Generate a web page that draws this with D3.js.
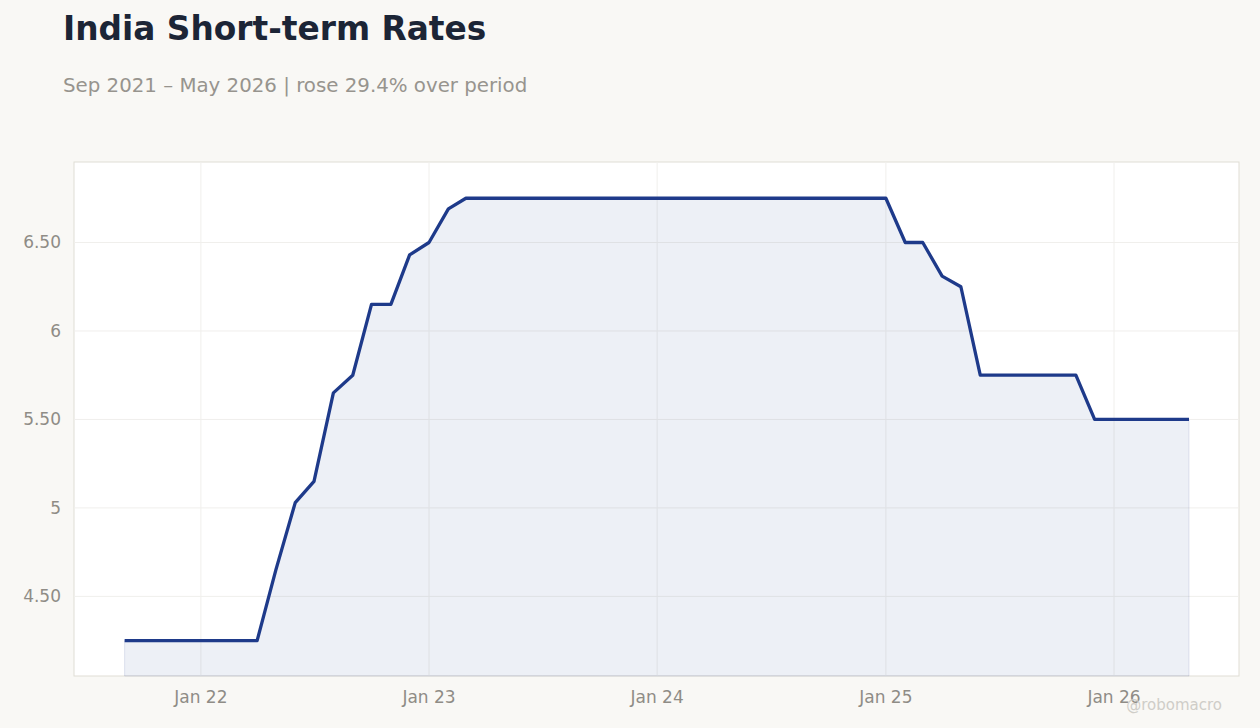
<!DOCTYPE html>
<html><head><meta charset="utf-8">
<script src="https://cdn.jsdelivr.net/npm/d3@7"></script>
<style>body{margin:0;background:#f9f8f5;font-family:"DejaVu Sans",sans-serif;}</style>
</head><body><svg id="c" width="1260" height="728"></svg>
<script>
const startMonth = "2021-09";
const values = [4.25,4.25,4.25,4.25,4.25,4.25,4.25,4.25,4.65,5.03,5.15,5.65,5.75,6.15,6.15,6.43,
6.5,6.69,6.75,6.75,6.75,6.75,6.75,6.75,6.75,6.75,6.75,6.75,6.75,6.75,6.75,6.75,6.75,6.75,6.75,6.75,6.75,6.75,6.75,6.75,
6.75,6.5,6.5,6.31,6.25,5.75,5.75,5.75,5.75,5.75,5.75,5.5,5.5,5.5,5.5,5.5,5.5];
const yTicks = [4.5,5,5.5,6,6.5];
const yTickLabels = ["4.50","5","5.50","6","6.50"];
const xTicks = ["2022-01","2023-01","2024-01","2025-01","2026-01"];
const xTickLabels = ["Jan 22","Jan 23","Jan 24","Jan 25","Jan 26"];

const p = d3.timeParse("%Y-%m");
const s0 = p(startMonth);
const data = values.map((v,i)=>({d:d3.timeMonth.offset(s0,i),v}));
const svg = d3.select("#c");
const L=74,R=1239,T=162,B=676;
const x = d3.scaleTime().domain([new Date(2021,5,12),new Date(2026,6,20)]).range([L,R]);
const y = d3.scaleLinear().domain([4.05,6.955]).range([B,T]);
svg.append("rect").attr("x",L).attr("y",T).attr("width",R-L).attr("height",B-T).attr("fill","#fff").attr("stroke","#e0ddd5");
const g=svg.append("g");
yTicks.forEach((t,i)=>{
  g.append("line").attr("x1",L).attr("x2",R).attr("y1",y(t)).attr("y2",y(t)).attr("stroke","#f0efec");
  g.append("text").attr("x",L-13).attr("y",y(t)).attr("dy","0.35em").attr("text-anchor","end").attr("fill","#8f8c86").attr("font-size",17).text(yTickLabels[i]);
});
xTicks.forEach((t,i)=>{
  const xx=x(p(t));
  g.append("line").attr("x1",xx).attr("x2",xx).attr("y1",T).attr("y2",B).attr("stroke","#f0efec");
  g.append("text").attr("x",xx).attr("y",B+27).attr("text-anchor","middle").attr("fill","#8f8c86").attr("font-size",17).text(xTickLabels[i]);
});
svg.append("path").datum(data).attr("fill","rgba(30,58,138,0.08)").attr("stroke","rgba(30,58,138,0.12)")
 .attr("d",d3.area().x(d=>x(d.d)).y0(B).y1(d=>y(d.v)));
svg.append("path").datum(data).attr("fill","none").attr("stroke","#1e3a8a").attr("stroke-width",3.3).attr("stroke-linejoin","round")
 .attr("d",d3.line().x(d=>x(d.d)).y(d=>y(d.v)));
svg.append("text").attr("x",63).attr("y",40).attr("font-size",32.8).attr("font-weight","bold").attr("fill","#1c2536").text("India Short-term Rates");
svg.append("text").attr("x",63).attr("y",92).attr("font-size",19.8).attr("fill","#97948e").text("Sep 2021 – May 2026 | rose 29.4% over period");
svg.append("text").attr("x",1222).attr("y",710).attr("text-anchor","end").attr("font-size",15).attr("fill","#cfcdc8").text("@robomacro");
</script></body></html>
